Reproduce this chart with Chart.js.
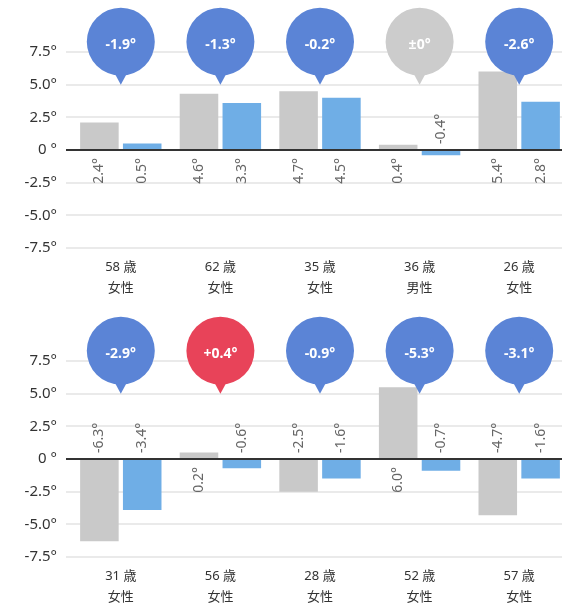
<!DOCTYPE html>
<html>
<head>
<meta charset="utf-8">
<script src="https://cdn.jsdelivr.net/npm/chart.js@4"></script>
<style>
  html, body { margin: 0; padding: 0; background: #fff; overflow: hidden; }
  .panel { position: relative; width: 569px; height: 309px; }
</style>
</head>
<body>
<div class="panel"><canvas id="top_chart"></canvas></div>
<div class="panel"><canvas id="bottom_chart"></canvas></div>
<script>
// top panel
const ages_top = ['58 歳', '62 歳', '35 歳', '36 歳', '26 歳'];
const genders_top = ['女性', '女性', '女性', '男性', '女性'];
const gray_top = [2.1, 4.3, 4.5, 0.4, 6.0];
const blue_top = [0.5, 3.6, 4.0, -0.4, 3.7];
const gray_labels_top = ['2.4°', '4.6°', '4.7°', '0.4°', '5.4°'];
const blue_labels_top = ['0.5°', '3.3°', '4.5°', '-0.4°', '2.8°'];
const diff_top = ['-1.9°', '-1.3°', '-0.2°', '±0°', '-2.6°'];
const kind_top = ['down', 'down', 'down', 'even', 'down'];

// bottom panel
const ages_bottom = ['31 歳', '56 歳', '28 歳', '52 歳', '57 歳'];
const genders_bottom = ['女性', '女性', '女性', '女性', '女性'];
const gray_bottom = [-6.3, 0.5, -2.5, 5.5, -4.3];
const blue_bottom = [-3.9, -0.7, -1.5, -0.9, -1.5];
const gray_labels_bottom = ['-6.3°', '0.2°', '-2.5°', '6.0°', '-4.7°'];
const blue_labels_bottom = ['-3.4°', '-0.6°', '-1.6°', '-0.7°', '-1.6°'];
const diff_bottom = ['-2.9°', '+0.4°', '-0.9°', '-5.3°', '-3.1°'];
const kind_bottom = ['down', 'up', 'down', 'down', 'down'];

const y_ticks = [-7.5, -5.0, -2.5, 0, 2.5, 5.0, 7.5];

const FONT = '"Noto Sans", "Noto Sans CJK JP", sans-serif';
const BUBBLE_COLORS = { down: '#5b84d6', up: '#e84359', even: '#cccccc' };

const annotate = {
  id: 'annotate',
  afterDatasetsDraw(chart, args, opts) {
    const ctx = chart.ctx;
    const xs = chart.scales.x, ys = chart.scales.y;
    const area = chart.chartArea;
    const zero = ys.getPixelForValue(0);

    ctx.save();
    // zero line on top of the bars
    ctx.strokeStyle = '#333';
    ctx.lineWidth = 2;
    ctx.beginPath();
    ctx.moveTo(area.left - 5, zero);
    ctx.lineTo(area.right, zero);
    ctx.stroke();

    // rotated value labels, on the other side of the axis
    ctx.font = '14px ' + FONT;
    ctx.fillStyle = '#666';
    ctx.textBaseline = 'middle';
    chart.data.datasets.forEach((ds, di) => {
      chart.getDatasetMeta(di).data.forEach((bar, i) => {
        const v = ds.data[i];
        ctx.save();
        ctx.translate(bar.x, v >= 0 ? zero + 8 : zero - 6);
        ctx.rotate(-Math.PI / 2);
        ctx.textAlign = v >= 0 ? 'right' : 'left';
        ctx.fillText(opts.labels[di][i], 0, 0);
        ctx.restore();
      });
    });

    // difference bubbles
    opts.diffs.forEach((txt, i) => {
      const cx = xs.getPixelForValue(i);
      const tip = ys.getPixelForValue(5);
      const r = 34;
      const cy = tip - 43;
      ctx.fillStyle = BUBBLE_COLORS[opts.kinds[i]];
      ctx.beginPath();
      ctx.arc(cx, cy, r, 0, Math.PI * 2);
      ctx.fill();
      ctx.beginPath();
      ctx.moveTo(cx - 7, cy + r - 4);
      ctx.lineTo(cx + 7, cy + r - 4);
      ctx.lineTo(cx, tip);
      ctx.closePath();
      ctx.fill();
      ctx.fillStyle = '#fff';
      ctx.font = 'bold 14px ' + FONT;
      ctx.textAlign = 'center';
      ctx.fillText(txt, cx, cy + 3);
    });
    ctx.restore();
  }
};

function make_panel(canvas_id, ages, genders, gray, blue, gray_labels, blue_labels, diffs, kinds) {
  const ctx = document.getElementById(canvas_id).getContext('2d');
  return new Chart(ctx, {
    type: 'bar',
    data: {
      labels: ages.map((a, i) => [a, genders[i]]),
      datasets: [
        { data: gray, backgroundColor: '#c9c9c9', barPercentage: 0.9, categoryPercentage: 0.86 },
        { data: blue, backgroundColor: '#6faee6', barPercentage: 0.9, categoryPercentage: 0.86 }
      ]
    },
    options: {
      responsive: true,
      maintainAspectRatio: false,
      animation: false,
      layout: { padding: { top: 52, right: 0, left: 0, bottom: 0 } },
      plugins: {
        legend: { display: false },
        tooltip: { enabled: false },
        annotate: { labels: [gray_labels, blue_labels], diffs: diffs, kinds: kinds }
      },
      scales: {
        x: {
          grid: { display: false, drawTicks: false },
          border: { display: false },
          ticks: { color: '#333', font: { family: FONT, size: 13, lineHeight: 1.6 }, padding: 9, maxRotation: 0 },
          afterFit: (scale) => { scale.height = 61; }
        },
        y: {
          min: -7.5,
          max: 7.5,
          afterBuildTicks: (scale) => { scale.ticks = y_ticks.map(v => ({ value: v })); },
          border: { display: false },
          grid: { color: '#eaeaea', lineWidth: 2, tickLength: 5, drawTicks: true },
          ticks: {
            color: '#333',
            padding: 9,
            font: { family: FONT, size: 15 },
            callback: (v) => v === 0 ? '0 °' : v.toFixed(1) + '°'
          },
          afterFit: (scale) => { scale.width = 71; }
        }
      }
    },
    plugins: [annotate]
  });
}

make_panel('top_chart', ages_top, genders_top, gray_top, blue_top, gray_labels_top, blue_labels_top, diff_top, kind_top);
make_panel('bottom_chart', ages_bottom, genders_bottom, gray_bottom, blue_bottom, gray_labels_bottom, blue_labels_bottom, diff_bottom, kind_bottom);
</script>
</body>
</html>
